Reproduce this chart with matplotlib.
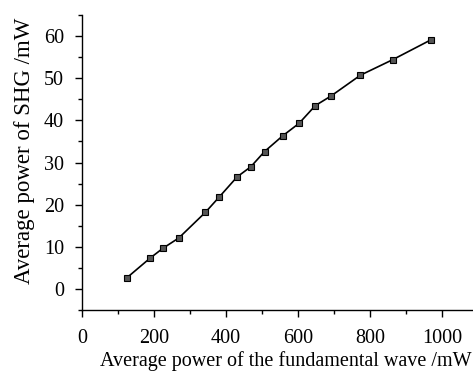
import matplotlib
matplotlib.use("Agg")
import matplotlib.pyplot as plt
from matplotlib.ticker import MultipleLocator

fund_power = [124, 189, 224, 269, 343, 381, 431, 469, 507, 557, 603, 648, 692, 773, 863, 969]
shg_power = [2.6, 7.3, 9.6, 12.1, 18.2, 21.8, 26.6, 29.0, 32.6, 36.3, 39.3, 43.5, 45.8, 50.7, 54.4, 59.1]
xticks = [0, 200, 400, 600, 800, 1000]
yticks = [0, 10, 20, 30, 40, 50, 60]

plt.rcParams['font.family'] = ['Liberation Serif', 'DejaVu Serif']

fig = plt.figure(figsize=(4.73, 3.72), dpi=100)
ax = fig.add_axes([82/473, 1-310/372, 1-82/473, (310-15)/372])
ax.plot(fund_power, shg_power, color='black', lw=1.2, marker='s', ms=5,
        mfc='#555555', mec='black', mew=0.8)
ax.set_xlim(0, 1086)
ax.set_ylim(-5, 65)
ax.set_xticks(xticks)
ax.set_yticks(yticks)
ax.xaxis.set_minor_locator(MultipleLocator(100))
ax.yaxis.set_minor_locator(MultipleLocator(5))
for s in ['top', 'right']:
    ax.spines[s].set_visible(False)
for s in ['left', 'bottom']:
    ax.spines[s].set_linewidth(1.0)
ax.tick_params(which='major', direction='out', length=5, width=1.0, labelsize=14.5)
ax.tick_params(axis='x', which='major', pad=9)
ax.tick_params(axis='y', which='major', pad=8)
ax.tick_params(which='minor', direction='out', length=3, width=1.0)
ax.set_xlabel('Average power of the fundamental wave /mW', fontsize=14.5)
ax.set_ylabel('Average power of SHG /mW', fontsize=16.5)
ax.xaxis.set_label_coords(0.522, -0.14)
ax.yaxis.set_label_coords(-0.12, 0.539)
fig.savefig('out.png', dpi=100)
